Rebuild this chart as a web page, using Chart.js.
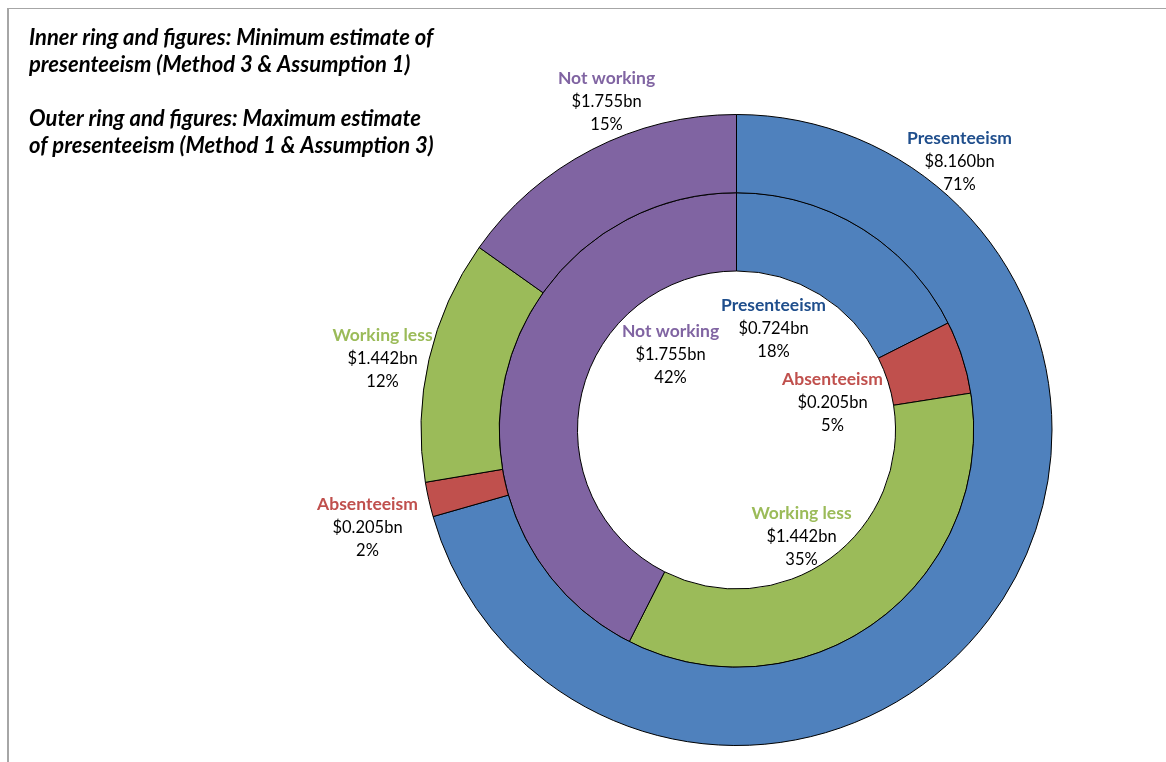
<!DOCTYPE html>
<html>
<head>
<meta charset="utf-8">
<script src="https://cdn.jsdelivr.net/npm/chart.js@4.4.0/dist/chart.umd.min.js"></script>
<style>
  html, body { margin: 0; padding: 0; background: #ffffff; }
  #wrap { position: relative; width: 1166px; height: 762px; overflow: hidden; }
  #frame {
    position: absolute; left: 7px; top: 8px; width: 1300px; height: 900px;
    border-left: 2px solid #a6a6a6; border-top: 1px solid #a6a6a6;
  }
  #c { position: absolute; left: 0; top: 0; }
</style>
</head>
<body>
<div id="wrap">
  <div id="frame"></div>
  <canvas id="c" width="1166" height="762"></canvas>
</div>
<script>
// Cost components, $ billions
const categories = ['Presenteeism', 'Absenteeism', 'Working less', 'Not working'];
const outerValues = [8.160, 0.205, 1.442, 1.755];   // maximum estimate
const innerValues = [0.724, 0.205, 1.442, 1.755];   // minimum estimate
const outerPercent = [71, 2, 12, 15];
const innerPercent = [18, 5, 35, 42];

const titleLines = [
  'Inner ring and figures: Minimum estimate of',
  'presenteeism (Method 3 & Assumption 1)',
  '',
  'Outer ring and figures: Maximum estimate',
  'of presenteeism (Method 1 & Assumption 3)'
];

const sliceColours = ['#4F81BD', '#C0504D', '#9BBB59', '#8064A2'];
const nameColours  = ['#1F4E8C', '#C0504D', '#9BBB59', '#8064A2'];

// Where each label block sits, relative to the doughnut centre (px)
const labelOffsets = {
  outer: [[223, -292], [-369, 74], [-354, -95], [-130, -352]],
  inner: [[37, -125], [96, -51], [65, 83], [-66, -99]]
};

const FONT = 'Lato, "Open Sans", sans-serif';

const annotate = {
  id: 'annotate',
  afterDraw(chart) {
    const ctx = chart.ctx;
    ctx.save();
    // heading block
    ctx.fillStyle = '#000000';
    ctx.font = 'italic bold 22px ' + FONT;
    ctx.textAlign = 'left';
    ctx.textBaseline = 'middle';
    titleLines.forEach((t, i) => { if (t) ctx.fillText(t, 29, 38 + i * 27); });

    // slice labels
    const arc0 = chart.getDatasetMeta(0).data[0];
    const cx = arc0.x, cy = arc0.y;
    const sets = [
      { vals: outerValues, pcts: outerPercent, offs: labelOffsets.outer },
      { vals: innerValues, pcts: innerPercent, offs: labelOffsets.inner }
    ];
    ctx.textAlign = 'center';
    sets.forEach(s => {
      categories.forEach((name, i) => {
        const x = cx + s.offs[i][0];
        const y = cy + s.offs[i][1];
        ctx.font = 'bold 17.5px ' + FONT;
        ctx.fillStyle = nameColours[i];
        ctx.fillText(name, x, y);
        ctx.font = '16.5px ' + FONT;
        ctx.fillStyle = '#000000';
        ctx.fillText('$' + s.vals[i].toFixed(3) + 'bn', x, y + 24);
        ctx.fillText(s.pcts[i] + '%', x, y + 47);
      });
    });
    ctx.restore();
  }
};

new Chart(document.getElementById('c'), {
  type: 'doughnut',
  data: {
    labels: categories,
    datasets: [
      { label: 'Maximum estimate', data: outerValues, backgroundColor: sliceColours,
        borderColor: '#000000', borderWidth: 1 },
      { label: 'Minimum estimate', data: innerValues, backgroundColor: sliceColours,
        borderColor: '#000000', borderWidth: 1 }
    ]
  },
  options: {
    responsive: false,
    animation: false,
    devicePixelRatio: 1,
    cutout: '50.4%',
    layout: { padding: { left: 420, right: 113, top: 114, bottom: 16 } },
    plugins: { legend: { display: false }, tooltip: { enabled: false } }
  },
  plugins: [annotate]
});
</script>
</body>
</html>
